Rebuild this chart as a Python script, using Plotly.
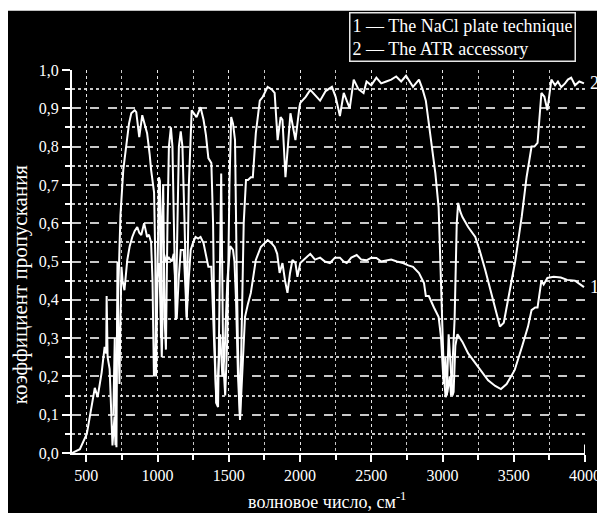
import plotly.graph_objects as go

# Series 2 - The ATR accessory (upper curve at right)
atr_x = [400, 455, 504, 539, 560, 580, 608, 629, 640, 643, 650, 664, 684, 698, 705, 715, 725, 740, 760, 781,
         800, 816, 840, 851, 872, 893, 910, 927, 945, 955, 976, 985, 990, 1000, 1010, 1017, 1024, 1031, 1040, 1050,
         1059, 1070, 1080, 1094, 1105, 1115, 1128, 1140, 1150, 1163, 1175, 1190, 1205, 1220, 1240, 1274, 1302, 1323,
         1340, 1357, 1378, 1390, 1400, 1413, 1425, 1435, 1447, 1455, 1461, 1475, 1490, 1505, 1517, 1530, 1544, 1555,
         1565, 1579, 1590, 1605, 1621, 1635, 1655, 1669, 1690, 1718, 1739, 1773, 1800, 1822, 1843, 1864, 1877, 1898,
         1933, 1968, 1996, 2002, 2040, 2072, 2141, 2180, 2224, 2250, 2280, 2307, 2349, 2377, 2410, 2446, 2467, 2500,
         2536, 2570, 2605, 2640, 2675, 2710, 2744, 2770, 2793, 2835, 2860, 2883, 2904, 2932, 2950, 2973, 2990, 3001,
         3010, 3022, 3035, 3050, 3060, 3085, 3100, 3110, 3125, 3140, 3180, 3230, 3260, 3300, 3340, 3369, 3403, 3430,
         3473, 3510, 3556, 3590, 3625, 3645, 3667, 3680, 3694, 3715, 3736, 3764, 3790, 3810, 3833, 3860, 3880, 3903,
         3930, 3960, 3993]
atr_y = [0.0, 0.01, 0.05, 0.12, 0.17, 0.146, 0.21, 0.277, 0.26, 0.41, 0.25, 0.22, 0.02, 0.095, 0.02, 0.3, 0.45, 0.62, 0.74, 0.81,
         0.86, 0.887, 0.895, 0.89, 0.825, 0.882, 0.86, 0.835, 0.78, 0.74, 0.68, 0.5, 0.2, 0.45, 0.72, 0.71, 0.3, 0.6, 0.7, 0.35,
         0.27, 0.6, 0.8, 0.85, 0.8, 0.6, 0.347, 0.6, 0.8, 0.84, 0.8, 0.6, 0.347, 0.7, 0.895, 0.877, 0.903, 0.87,
         0.83, 0.77, 0.757, 0.6, 0.3, 0.13, 0.12, 0.4, 0.73, 0.45, 0.24, 0.15, 0.3, 0.7, 0.877, 0.86, 0.817, 0.5,
         0.27, 0.094, 0.3, 0.6, 0.713, 0.713, 0.72, 0.72, 0.835, 0.92, 0.93, 0.956, 0.95, 0.94, 0.817, 0.877, 0.87, 0.72,
         0.887, 0.817, 0.903, 0.914, 0.93, 0.948, 0.92, 0.945, 0.956, 0.93, 0.88, 0.94, 0.90, 0.975, 0.95, 0.94, 0.97, 0.96,
         0.98, 0.965, 0.97, 0.975, 0.983, 0.97, 0.985, 0.97, 0.956, 0.975, 0.95, 0.92, 0.86, 0.79, 0.73, 0.64, 0.45, 0.30,
         0.2, 0.146, 0.16, 0.2, 0.15, 0.35, 0.6, 0.653, 0.63, 0.616, 0.59, 0.564, 0.53, 0.478, 0.42, 0.373, 0.33, 0.34,
         0.425, 0.5, 0.617, 0.72, 0.80, 0.80, 0.81, 0.88, 0.94, 0.93, 0.895, 0.975, 0.96, 0.97, 0.955, 0.965, 0.975, 0.98,
         0.96, 0.97, 0.965]

# Series 1 - The NaCl plate technique (lower curve at right)
nacl_x = [690, 700, 706, 712, 716, 719, 726, 733, 740, 747, 755, 768, 788, 805, 823, 840, 858, 872, 886, 906,
          918, 927, 940, 955, 965, 975, 985, 995, 1010, 1020, 1030, 1038, 1045, 1060, 1080, 1100, 1114, 1125, 1135, 1148,
          1163, 1184, 1195, 1205, 1218, 1233, 1250, 1267, 1285, 1302, 1323, 1340, 1357, 1378, 1395, 1413, 1425, 1440,
          1455, 1470, 1490, 1510, 1530, 1540, 1551, 1565, 1579, 1592, 1614, 1635, 1655, 1690, 1725, 1773, 1800, 1822,
          1840, 1857, 1877, 1895, 1912, 1930, 1947, 1968, 1982, 2002, 2040, 2072, 2105, 2141, 2175, 2210, 2245, 2280,
          2305, 2328, 2360, 2398, 2430, 2467, 2500, 2536, 2570, 2605, 2640, 2680, 2723, 2760, 2793, 2835, 2870, 2883,
          2904, 2940, 2973, 2990, 3008, 3020, 3030, 3043, 3060, 3070, 3078, 3090, 3105, 3140, 3180, 3230, 3280, 3320,
          3370, 3410, 3450, 3507, 3560, 3600, 3625, 3650, 3667, 3694, 3710, 3736, 3780, 3830, 3875, 3930, 3993]
nacl_y = [0.1, 0.3, 0.1, 0.015, 0.3, 0.50, 0.3, 0.18, 0.35, 0.486, 0.45, 0.425, 0.504, 0.54, 0.564, 0.58, 0.59, 0.575, 0.569, 0.60,
          0.58, 0.564, 0.57, 0.55, 0.45, 0.2, 0.25, 0.45, 0.496, 0.4, 0.25, 0.45, 0.52, 0.5, 0.51, 0.5, 0.52, 0.45, 0.35, 0.45,
          0.53, 0.53, 0.45, 0.355, 0.45, 0.53, 0.55, 0.564, 0.56, 0.564, 0.548, 0.52, 0.486, 0.486, 0.3, 0.13, 0.2, 0.31,
          0.2, 0.25, 0.45, 0.54, 0.53, 0.5, 0.40, 0.2, 0.086, 0.2, 0.355, 0.39, 0.418, 0.504, 0.538, 0.556, 0.548, 0.538,
          0.52, 0.47, 0.496, 0.45, 0.418, 0.47, 0.504, 0.496, 0.46, 0.496, 0.51, 0.52, 0.505, 0.51, 0.50, 0.496, 0.51, 0.51,
          0.50, 0.496, 0.51, 0.517, 0.505, 0.503, 0.51, 0.509, 0.50, 0.503, 0.505, 0.50, 0.496, 0.49, 0.486, 0.47, 0.444, 0.41,
          0.41, 0.38, 0.355, 0.3, 0.18, 0.25, 0.15, 0.31, 0.2, 0.15, 0.16, 0.28, 0.31, 0.29, 0.26, 0.235, 0.21, 0.19,
          0.175, 0.167, 0.18, 0.217, 0.28, 0.33, 0.373, 0.38, 0.38, 0.45, 0.44, 0.457, 0.46, 0.458, 0.452, 0.45, 0.433]

x_ticks = [500, 1000, 1500, 2000, 2500, 3000, 3500, 4000]
x_ticktext = ["500", "1000", "1500", "2000", "2500", "3000", "3500", "4000"]
y_ticks = [0.0, 0.1, 0.2, 0.3, 0.4, 0.5, 0.6, 0.7, 0.8, 0.9, 1.0]
y_ticktext = ["0,0", "0,1", "0,2", "0,3", "0,4", "0,5", "0,6", "0,7", "0,8", "0,9", "1,0"]

legend_lines = ["1 \u2014 The NaCl plate technique", "2 \u2014 The ATR accessory"]

FONT = "Liberation Serif, Times New Roman, serif"
GRID = "rgba(235,235,235,0.85)"

fig = go.Figure()
fig.add_trace(go.Scatter(x=nacl_x, y=nacl_y, mode="lines", name="1",
                         line=dict(color="white", width=2), showlegend=False))
fig.add_trace(go.Scatter(x=atr_x, y=atr_y, mode="lines", name="2",
                         line=dict(color="white", width=2), showlegend=False))

fig.update_layout(
    width=605, height=513,
    margin=dict(l=64, r=22, t=62, b=68),
    paper_bgcolor="black", plot_bgcolor="black",
    font=dict(family=FONT, color="white", size=16),
    showlegend=False,
)

fig.update_xaxes(
    range=[400, 4000], tickmode="array", tickvals=x_ticks, ticktext=x_ticktext,
    showline=True, linecolor="white", linewidth=2, mirror=False,
    ticks="outside", ticklen=7, tickwidth=2, tickcolor="white",
    tickfont=dict(family=FONT, size=16, color="white"),
    showgrid=True, gridcolor=GRID, gridwidth=1, griddash="dot",
    zeroline=False,
    minor=dict(tickmode="linear", tick0=250, dtick=250, ticks="outside", ticklen=5, tickwidth=1.5,
               tickcolor="white", showgrid=True, gridcolor=GRID, gridwidth=1, griddash="dot"),
)
fig.update_yaxes(
    range=[0, 1.0], tickmode="array", tickvals=y_ticks, ticktext=y_ticktext,
    showline=True, linecolor="white", linewidth=2, mirror=False,
    ticks="outside", ticklen=8, tickwidth=2, tickcolor="white",
    tickfont=dict(family=FONT, size=16, color="white"),
    showgrid=True, gridcolor=GRID, gridwidth=1.5, griddash="dash",
    zeroline=False,
    minor=dict(tickmode="linear", tick0=0.05, dtick=0.1, ticks="outside", ticklen=5, tickwidth=1.5,
               tickcolor="white", showgrid=True, gridcolor=GRID, gridwidth=1.5, griddash="dot"),
)

# thin white strip at the very top of the page
fig.add_shape(type="rect", xref="paper", yref="paper", x0=-0.2, x1=1.1, y0=1.155, y1=1.2,
              fillcolor="white", line=dict(width=0), layer="above")
# small upward end tick at 4000
fig.add_shape(type="line", xref="x", yref="y", x0=4000, x1=4000, y0=0, y1=0.022,
              line=dict(color="white", width=2))

annotations = [
    dict(text="<br>".join(legend_lines), xref="paper", yref="paper", x=0.9827, y=1.1514,
         xanchor="right", yanchor="top", align="left", showarrow=False,
         font=dict(family=FONT, size=18, color="white"),
         bgcolor="black", bordercolor="rgba(230,230,230,1)", borderwidth=1.5, borderpad=2),
    dict(text="2", xref="paper", yref="paper", x=1.019, y=0.966, xanchor="center", yanchor="middle",
         showarrow=False, font=dict(family=FONT, size=18, color="white")),
    dict(text="1", xref="paper", yref="paper", x=1.019, y=0.433, xanchor="center", yanchor="middle",
         showarrow=False, font=dict(family=FONT, size=18, color="white")),
    dict(text="коэффициент пропускания", xref="paper", yref="paper", x=-0.1, y=0.44,
         xanchor="center", yanchor="middle", textangle=-90, showarrow=False,
         font=dict(family=FONT, size=21, color="white")),
    dict(text="волновое число, см<sup>-1</sup>", xref="paper", yref="paper", x=0.497, y=-0.125,
         xanchor="center", yanchor="middle", showarrow=False,
         font=dict(family=FONT, size=18, color="white")),
]
fig.update_layout(annotations=annotations)

fig.write_html("out.html")
